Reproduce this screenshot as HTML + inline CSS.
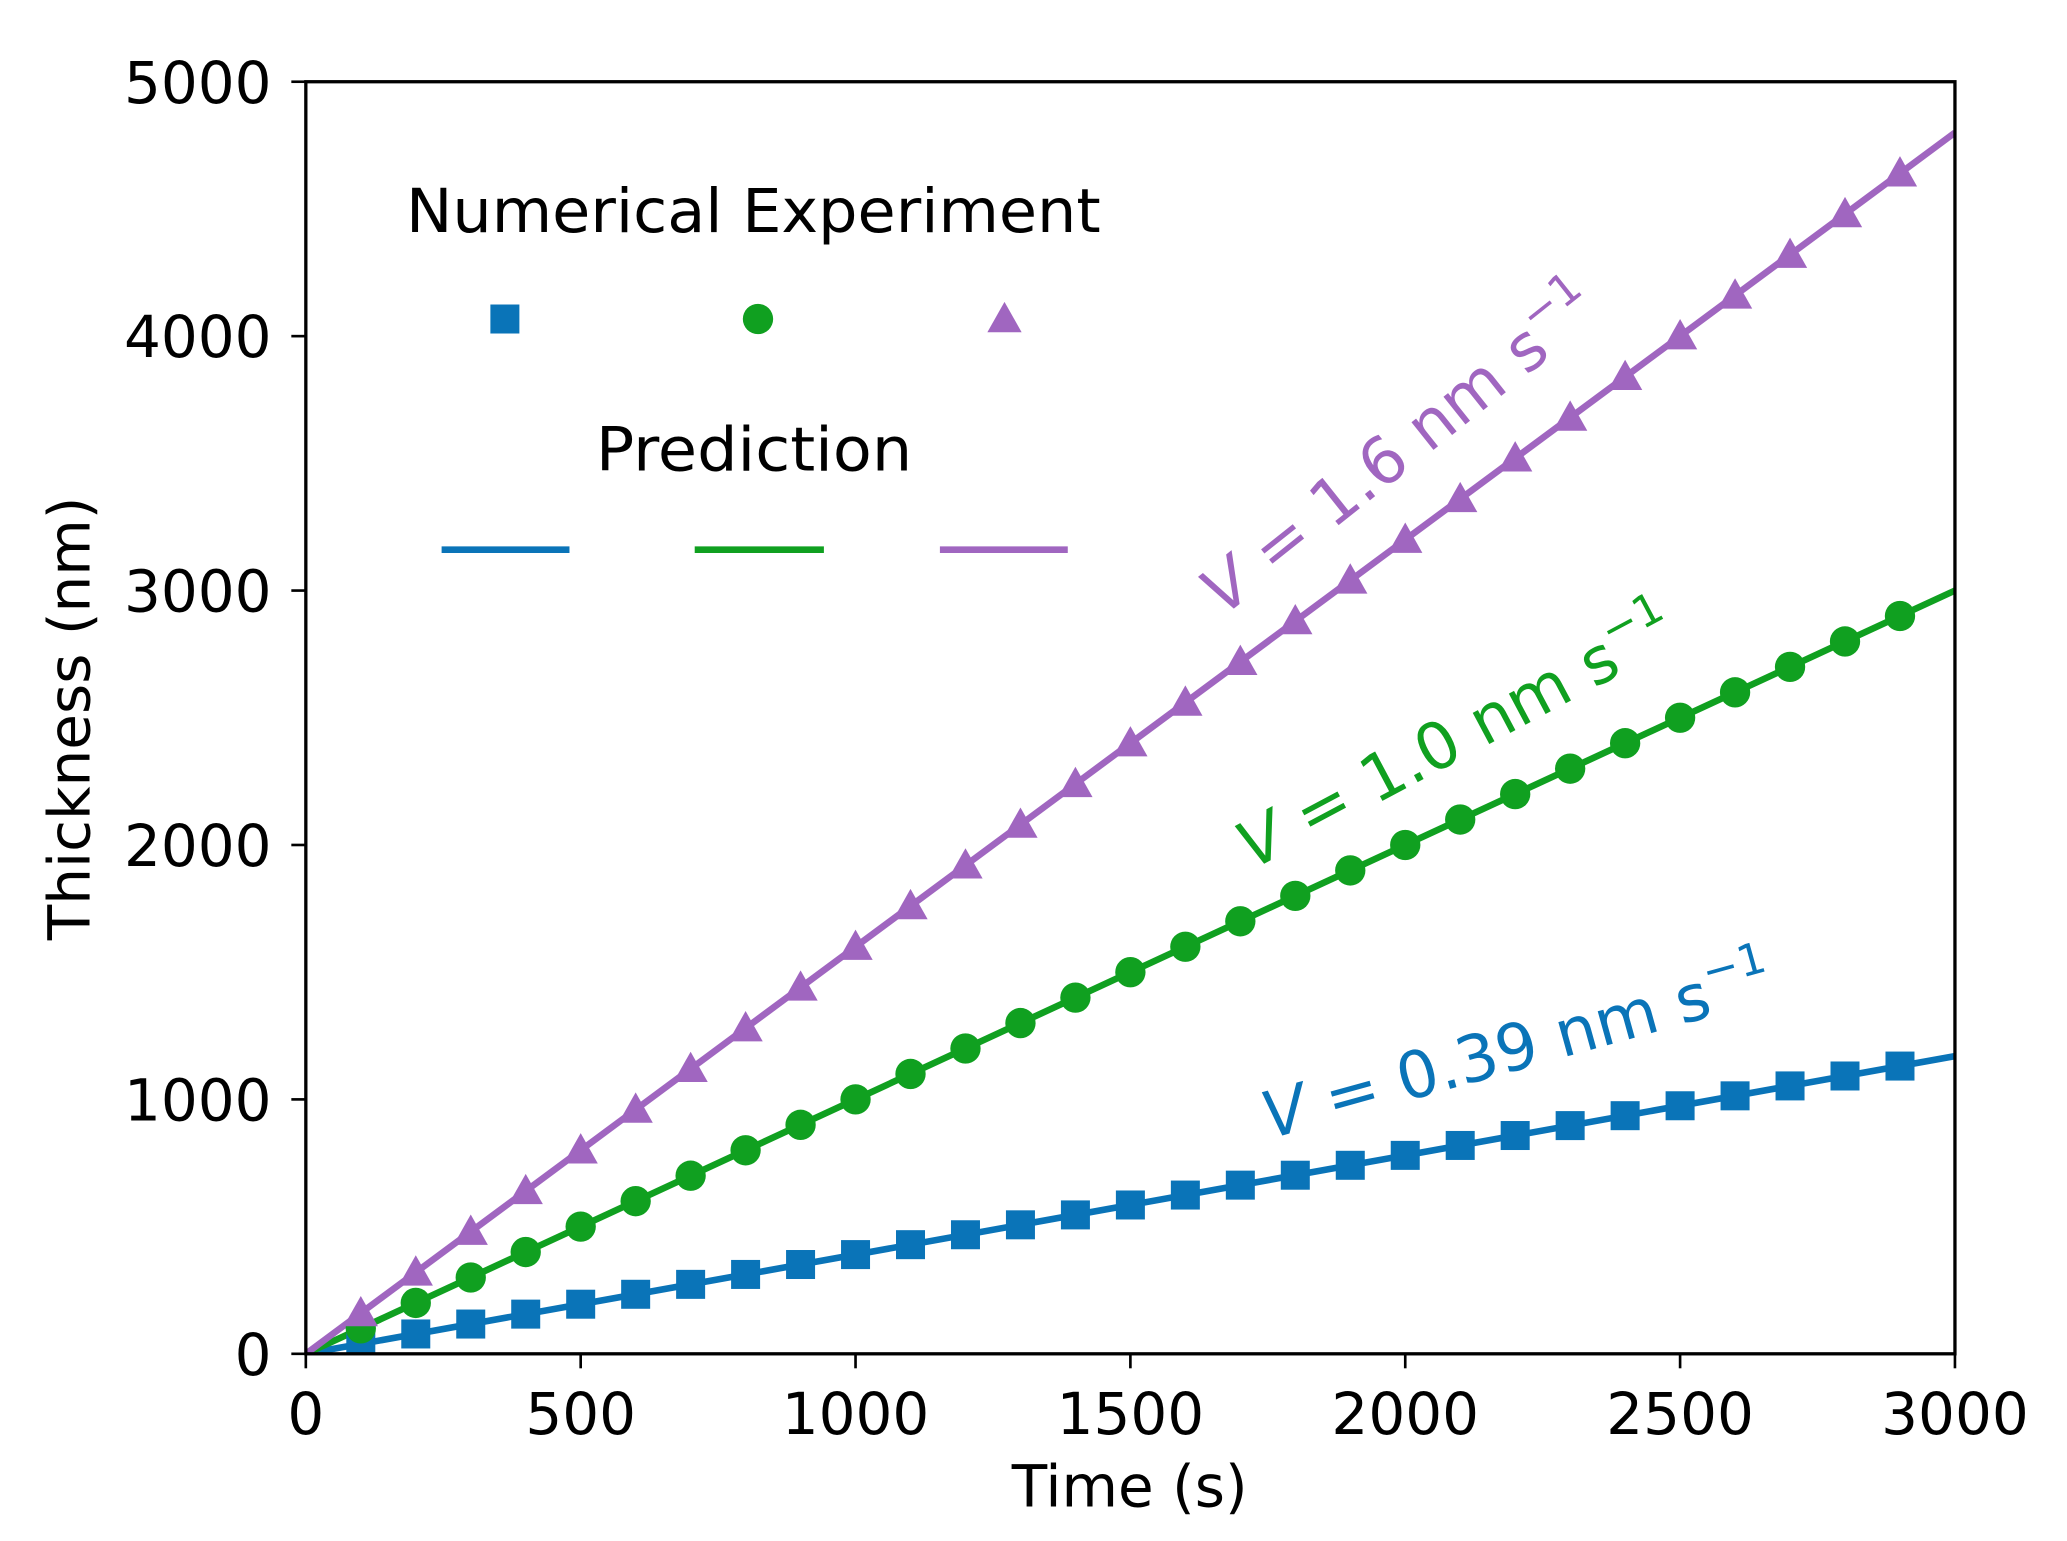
<!DOCTYPE html>
<html><head><meta charset="utf-8">
<style>html,body{margin:0;padding:0;background:#fff;}svg{display:block;}</style>
</head><body>
<svg id="chart" width="2067" height="1541" viewBox="0 0 1568 1169" preserveAspectRatio="none" xmlns="http://www.w3.org/2000/svg" font-family="'DejaVu Sans','Liberation Sans',sans-serif">
<rect width="1568" height="1169" fill="#fff"/>
<g id="marks"></g>
<rect x="232" y="62" width="1251" height="965" fill="none" stroke="#000" stroke-width="2.5"/>
<g id="axes"></g>
<text x="857" y="1143" font-size="44" text-anchor="middle">Time (s)</text>
<text transform="translate(68,545) rotate(-90)" font-size="44" text-anchor="middle">Thickness (nm)</text>
<g>
<text x="308" y="176" font-size="46" textLength="527" lengthAdjust="spacingAndGlyphs">Numerical Experiment</text>
<rect x="372" y="231" width="22" height="22" fill="#0a74b8"/>
<circle cx="575" cy="242" r="11.5" fill="#10a020"/>
<polygon points="762,229 775,252 749,252" fill="#a066c0"/>
<text x="452" y="357" font-size="46" textLength="240" lengthAdjust="spacingAndGlyphs">Prediction</text>
<line x1="335" y1="417" x2="432" y2="417" stroke="#0a74b8" stroke-width="5"/>
<line x1="527" y1="417" x2="625" y2="417" stroke="#10a020" stroke-width="5"/>
<line x1="713" y1="417" x2="810" y2="417" stroke="#a066c0" stroke-width="5"/>
</g>
<text transform="translate(928,468) rotate(-38.5)" font-size="49" fill="#a066c0"><tspan font-style="italic">V</tspan> = 1.6 nm s<tspan font-size="33" dy="-22">−1</tspan></text>
<text transform="translate(950,660) rotate(-28)" font-size="49" fill="#10a020"><tspan font-style="italic">V</tspan> = 1.0 nm s<tspan font-size="33" dy="-22">−1</tspan></text>
<text transform="translate(963,864) rotate(-15.5)" font-size="49" fill="#0a74b8"><tspan font-style="italic">V</tspan> = 0.39 nm s<tspan font-size="33" dy="-22">−1</tspan></text>
</svg>
<script>
const times = [100,200,300,400,500,600,700,800,900,1000,1100,1200,1300,1400,1500,1600,1700,1800,1900,2000,2100,2200,2300,2400,2500,2600,2700,2800,2900];
const blueVals = [39,78,117,156,195,234,273,312,351,390,429,468,507,546,585,624,663,702,741,780,819,858,897,936,975,1014,1053,1092,1131];
const greenVals = [100,200,300,400,500,600,700,800,900,1000,1100,1200,1300,1400,1500,1600,1700,1800,1900,2000,2100,2200,2300,2400,2500,2600,2700,2800,2900];
const purpleVals = [160,320,480,640,800,960,1120,1280,1440,1600,1760,1920,2080,2240,2400,2560,2720,2880,3040,3200,3360,3520,3680,3840,4000,4160,4320,4480,4640];
const rates = [0.39, 1.0, 1.6];
const xTicks = [0,500,1000,1500,2000,2500,3000];
const yTicks = [0,1000,2000,3000,4000,5000];

const NS = 'http://www.w3.org/2000/svg';
const X = t => 232 + (t/3000)*1251;
const Y = v => 1027 - (v/5000)*965;
const marks = document.getElementById('marks');
const axes = document.getElementById('axes');
function mk(tag, attrs, parent){const e=document.createElementNS(NS,tag);for(const k in attrs)e.setAttribute(k,attrs[k]);parent.appendChild(e);return e;}
const colors = ['#0a74b8','#10a020','#a066c0'];
const names = ['blue','green','purple'];
const series = [blueVals, greenVals, purpleVals];
const defs = mk('defs',{},document.getElementById('chart'));
const cp = mk('clipPath',{id:'clip'},defs);
mk('rect',{x:232,y:62,width:1251,height:965},cp);
marks.setAttribute('clip-path','url(#clip)');
rates.forEach((r,i)=>{
  const l = mk('line',{x1:X(0),y1:Y(0),x2:X(3000),y2:Y(r*3000),stroke:colors[i],'stroke-width':5},marks);
  
  
});
series.forEach((vals,i)=>{
  vals.forEach((v,j)=>{
    const cx=X(times[j]), cy=Y(v); let e;
    if(i===0) e=mk('rect',{x:cx-11,y:cy-11,width:22,height:22,fill:colors[i]},marks);
    else if(i===1) e=mk('circle',{cx:cx,cy:cy,r:11.5,fill:colors[i]},marks);
    else e=mk('polygon',{points:`${cx},${cy-13} ${cx+13},${cy+10} ${cx-13},${cy+10}`,fill:colors[i]},marks);
    
    
  });
});
xTicks.forEach(t=>{
  const l=mk('line',{x1:X(t),y1:1027,x2:X(t),y2:1038,stroke:'#000','stroke-width':2},axes);
  
  
  const tx=mk('text',{x:X(t),y:1088,'font-size':44,'text-anchor':'middle'},axes);
  tx.textContent=t;
  
  
});
yTicks.forEach(v=>{
  const l=mk('line',{x1:221,y1:Y(v),x2:232,y2:Y(v),stroke:'#000','stroke-width':2},axes);
  
  
  const tx=mk('text',{x:206,y:Y(v)+16,'font-size':44,'text-anchor':'end'},axes);
  tx.textContent=v;
  
  
});
</script>
</body></html>
